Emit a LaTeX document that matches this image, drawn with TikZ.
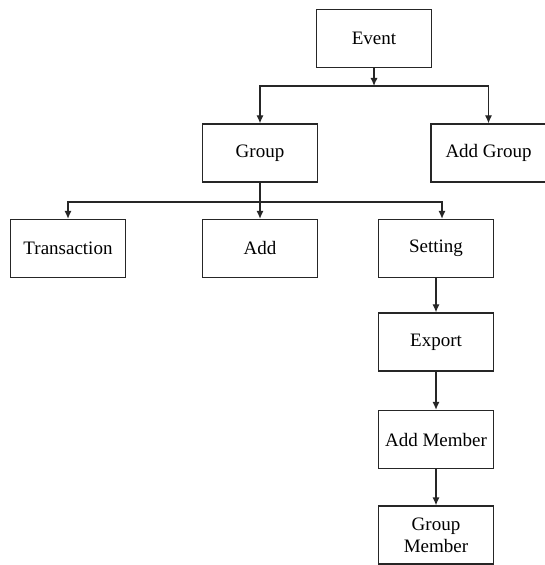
\documentclass[tikz,border=0pt]{standalone}
\usepackage{fontspec}
\setmainfont{Liberation Serif}
\usetikzlibrary{arrows.meta}

\begin{document}
\begin{tikzpicture}[x=0.5pt,y=-0.5pt]
\tikzset{box/.style={draw=black!85,line width=0.65pt,minimum width=57.5pt,minimum height=29pt,inner sep=1pt,align=center,font=\fontsize{9.5pt}{11pt}\selectfont},
  arr/.style={draw=black!85,line width=0.65pt,-{Latex[length=4pt,width=3.6pt]}},
  ln/.style={draw=black!85,line width=0.65pt}}
\useasboundingbox (0,0) rectangle (544,565);
\node[box] (event) at (374,38.5) {Event};
\node[box] (group) at (260,153) {Group};
\node[box] (addgroup) at (488.5,153) {Add Group};
\node[box] (trans) at (68,248.5) {Transaction};
\node[box] (add) at (260,248.5) {Add};
\node[box] (setting) at (436,248.5) {Setting};
\node[box] (export) at (436,342) {Export};
\node[box] (addmember) at (436,439.5) {Add Member};
\node[box] (groupmember) at (436,535) {Group\\Member};
\coordinate (j1) at (374,86);
\coordinate (j2) at (260,202);
\draw[arr] (event.south) -- (j1);
\draw[arr] (j1) -| (group.north);
\draw[arr] (j1) -| (addgroup.north);
\draw[arr] (group.south) -- (add.north);
\draw[arr] (j2) -| (trans.north);
\draw[arr] (j2) -| ([xshift=3pt]setting.north);
\draw[arr] (setting.south) -- (export.north);
\draw[arr] (export.south) -- (addmember.north);
\draw[arr] (addmember.south) -- (groupmember.north);
\end{tikzpicture}
\end{document}
